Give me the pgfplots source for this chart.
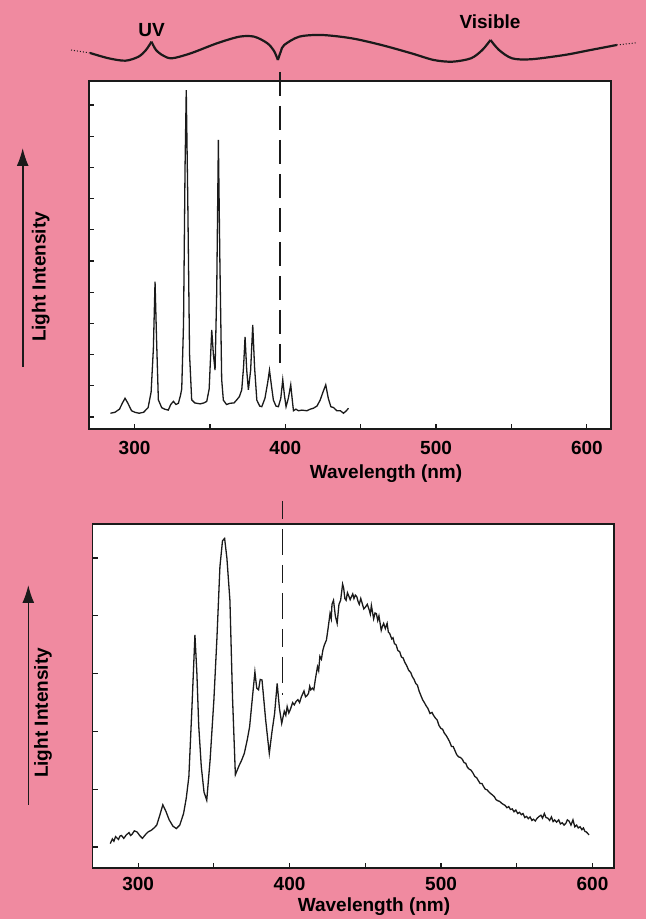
\documentclass[border=0pt]{standalone}
\usepackage{pgfplots}
\pgfplotsset{compat=1.18}
\usepackage{fontspec}
\setmainfont{Liberation Sans}
\usetikzlibrary{arrows.meta}
\definecolor{pinkbg}{HTML}{F08AA0}
\definecolor{ink}{HTML}{1A1A1A}
\newcommand\lbl{\fontsize{9.5}{11}\selectfont\bfseries}

\pgfplotsset{spec/.style={
  scale only axis,
  axis background/.style={fill=white},
  axis line style={ink, line width=0.7pt},
  tick align=inside, xtick pos=bottom, ytick pos=left,
  major tick length=2.5pt,
  tick style={ink, line width=0.6pt},
  xtick={300,350,...,600}, xticklabels={300,,400,,500,,600},
  yticklabels={},
  xticklabel style={font=\lbl, anchor=base},
  clip=false,
}}

\begin{document}
\begin{tikzpicture}[x=0.5pt,y=0.5pt]
\fill[pinkbg] (0,0) rectangle (646,919);
\clip (0,0) rectangle (646,919);

% top: line spectrum
\begin{axis}[spec, at={(44.5pt,245pt)}, anchor=south west,
  width=261pt, height=174pt,
  xmin=269.8, xmax=616, ymin=-0.385, ymax=10.77, ytick={0,...,10},
  xticklabel style={yshift=-13pt}]
\addplot[ink, line width=0.65pt] coordinates {
(284,0.12) (287,0.15) (290,0.25) (292,0.45) (293.7,0.6) (295.5,0.45) (298,0.2)
(300.3,0.15) (303,0.12) (306,0.15) (309,0.3) (311,0.8) (312.5,2.2) (313.6,4.34)
(314.6,2.5) (315.8,0.55) (318,0.3) (320,0.25) (322.4,0.22) (324,0.4) (325.8,0.5)
(327.5,0.4) (329.1,0.44) (330.5,0.7) (331.3,0.9) (332.5,3) (333.5,8) (334.3,10.48)
(335.3,7) (336.5,2) (337.9,0.55) (340,0.45) (343.5,0.42) (346,0.45) (347.9,0.5)
(349.5,0.9) (351.2,2.79) (352.3,2.0) (353.4,1.5) (354.5,4) (355.6,8.88) (356.6,5)
(357.8,1.2) (358.9,0.54) (361,0.4) (363.4,0.44) (366,0.45) (367.8,0.55) (369.5,0.65)
(371.1,0.87) (372.3,1.6) (373.3,2.57) (374.4,1.5) (375.5,0.87) (377,1.5) (378.4,2.95)
(379.6,1.6) (381.1,0.54) (383,0.35) (384.4,0.33) (386.5,0.6) (388.3,1.1) (389.5,1.5)
(390.8,1.0) (392.1,0.54) (393.8,0.35) (395.4,0.33) (397,0.6) (398.3,1.19) (399.4,0.7)
(400.5,0.33) (402,0.6) (403.6,1.03) (404.5,0.6) (405.4,0.2) (407,0.25) (408.7,0.2)
(411,0.22) (414.3,0.2) (416.5,0.25) (418.6,0.28) (421,0.35) (423.1,0.54) (425,0.8)
(426.8,1.03) (428.5,0.6) (430.2,0.33) (432,0.3) (434.2,0.2) (436.5,0.2) (438.6,0.12)
(440.5,0.2) (441.9,0.28)
};
\addplot[ink, line width=0.9pt, dash pattern=on 12pt off 5pt] coordinates {(396.5,11.06) (396.5,1.73)};
\end{axis}

% bottom: broad emission
\begin{axis}[spec, at={(46.35pt,25.5pt)}, anchor=south west,
  width=260.65pt, height=172pt,
  xmin=270, xmax=614.2, ymin=-0.363, ymax=5.59, ytick={0,...,5},
  xticklabel style={yshift=-11.5pt}]
\addplot[ink, line width=0.65pt] coordinates {
(281.6,0.06) (283,0.14) (284,0.1) (285.1,0.18) (287,0.13) (288,0.19) (289,0.2) (290.5,0.15)
(292.2,0.21) (294,0.25) (295,0.2) (296,0.22) (297.5,0.28) (299.3,0.26) (301,0.2) (302.8,0.15)
(305,0.22) (306.5,0.26) (308.7,0.29) (310.5,0.33) (312.3,0.38) (314.3,0.55) (316.3,0.73)
(318.3,0.62) (320.5,0.47) (323,0.36) (325.2,0.32) (327.5,0.38) (330,0.58) (331.8,0.85)
(333.5,1.22) (335.5,2.4) (337.5,3.67) (338.8,3.0) (340,2.1) (341.7,1.39) (343.5,0.95)
(345.3,0.81) (347.5,1.5) (350,2.54) (352,3.6) (354,4.85) (355.7,5.3) (357.1,5.34)
(358.6,5.0) (360.6,4.27) (362.3,2.6) (364.2,1.25) (366.5,1.4) (368.3,1.5) (370.1,1.62)
(372,1.85) (373.6,2.08) (375.5,2.6) (377.1,3.03) (378.3,2.75) (379.5,2.72) (380.6,2.9)
(381.8,2.89) (384.2,2.2) (386.6,1.62) (388.4,2.0) (390.1,2.31) (391.8,2.83) (393.3,2.4)
(394.8,2.14) (396.5,2.35) (397.5,2.28) (398.4,2.43) (399.5,2.32) (400.5,2.38) (402,2.5)
(403.1,2.46) (404.3,2.52) (405.5,2.55) (406.6,2.5) (407.8,2.6) (409.5,2.7) (410.5,2.6)
(411.5,2.62) (412.5,2.66) (413.3,2.78) (414,2.72) (415,2.75) (416,2.72) (417,2.9)
(418.4,3.12) (419.2,3.05) (420,3.3) (421,3.25) (422,3.41) (423,3.5) (424.3,3.58)
(425.5,3.8) (426.7,4.04) (427.5,3.95) (428,4.2) (429,4.27) (430.2,4.0) (431.4,3.87)
(432.6,4.2) (433.7,4.27) (435,4.55) (435.7,4.48) (436.5,4.3) (437.3,4.27) (438.2,4.4)
(439,4.35) (440,4.28) (440.8,4.33) (441.7,4.38) (442.5,4.3) (443.4,4.36) (444.4,4.33)
(445.2,4.25) (446,4.2) (447,4.3) (447.9,4.22) (449,4.12) (450,4.15) (451.3,4.2)
(452.6,4.1) (453.3,4.03) (454,4.18) (455.5,3.95) (456.4,4.05) (457.3,4.04) (458.2,3.92)
(459,4.0) (460.5,3.75) (461.3,3.82) (462.1,3.87) (463.2,3.78) (464.4,3.87) (465.2,3.72)
(466,3.7) (467.5,3.6) (468.3,3.62) (469.2,3.52) (470.3,3.5) (471.5,3.4) (472.7,3.38)
(473.8,3.29) (475,3.27) (476,3.2) (477.3,3.14) (478.6,3.06) (480,3.02) (481,2.95)
(482.2,2.9) (483.3,2.83) (484.4,2.8) (485.5,2.7) (486.7,2.62) (488,2.54) (489,2.5)
(490,2.45) (491.3,2.4) (492.7,2.31) (494,2.33) (495,2.28) (496.3,2.23) (497.4,2.2)
(498.7,2.1) (500,2.05) (501,2.04) (502.2,1.97) (503.4,1.93) (504.5,1.88) (505.7,1.82)
(506.9,1.74) (508,1.74) (509,1.68) (510.3,1.6) (511.6,1.56) (512.8,1.55) (514,1.52)
(515.2,1.46) (516.3,1.45) (517.4,1.38) (518.5,1.35) (519.8,1.33) (521.1,1.28) (522.3,1.22)
(523.5,1.2) (524.6,1.15) (525.8,1.1) (527,1.1) (528,1.05) (529.2,1.0) (530.4,0.99)
(531.7,0.95) (533,0.92) (534,0.9) (535.2,0.87) (536.3,0.82) (537.5,0.8) (538.7,0.79)
(539.9,0.76) (541,0.74) (542.3,0.72) (543.5,0.68) (544.7,0.7) (545.8,0.65) (547,0.66)
(548.2,0.61) (549.4,0.64) (550.6,0.58) (551.8,0.6) (553,0.56) (554.1,0.58) (555.3,0.51)
(556.5,0.53) (557.6,0.49) (558.8,0.52) (560,0.46) (561,0.48) (562.2,0.45) (563.5,0.5)
(564.8,0.53) (566,0.55) (567,0.5) (568.2,0.58) (569.3,0.51) (570.5,0.5) (571.7,0.46)
(572.9,0.52) (574,0.44) (575,0.47) (576.3,0.43) (577.7,0.47) (578.8,0.4) (580,0.42)
(581.2,0.38) (582.4,0.41) (583.4,0.47) (584.5,0.45) (585.8,0.38) (587.1,0.47) (588.3,0.35)
(589.5,0.38) (590.6,0.33) (591.8,0.35) (593,0.3) (594,0.33) (595,0.27) (596,0.26)
(597.7,0.21)
};
\addplot[ink, line width=0.9pt, dash pattern=on 9pt off 5pt on 13pt off 5pt] coordinates {(395.3,5.99) (395.3,2.63)};
\end{axis}

% UV / visible boundary curve, in picture pixels
\begin{axis}[at={(0pt,0pt)}, anchor=south west, scale only axis,
  width=323pt, height=459.5pt, xmin=0, xmax=646, ymin=0, ymax=919,
  y dir=reverse, hide axis, clip=false]
\addplot[ink, line width=0.5pt, densely dotted] coordinates {(71,50) (90,53)};
\addplot[ink, line width=1.1pt, smooth] coordinates {(90,53) (108.6,58.3) (125.4,60.7) (138.5,56.7) (146,50) (151.5,41.7)};
\addplot[ink, line width=1.1pt, smooth] coordinates {(151.5,41.7) (156,50) (163,55.5) (172,58.3) (190.8,53.3) (217,43.3) (239.4,36.7) (254.3,36.7) (267.4,43.3) (274,51) (277.9,60)};
\addplot[ink, line width=1.1pt, smooth] coordinates {(277.9,60) (281,51) (284.2,45) (299.2,36.7) (321.6,35) (351.5,38.3) (381.4,45) (411.3,53.3) (433.7,60) (452.4,61.7) (471,58.3) (482.3,50) (490.5,40)};
\addplot[ink, line width=1.1pt, smooth] coordinates {(490.5,40) (499,50) (512,58.3) (530.9,59.3) (564.5,55) (590.7,50) (616.8,45)};
\addplot[ink, line width=0.5pt, densely dotted] coordinates {(616.8,45) (637.4,42.7)};
\end{axis}

\node[font=\lbl] at (151.5,889) {UV};
\node[font=\lbl] at (490,897) {Visible};
\node[font=\lbl, rotate=90] at (40.7,642) {Light Intensity};
\node[font=\lbl, rotate=90] at (43,206) {Light Intensity};
\draw[ink, line width=0.8pt, -{Latex[length=9pt,width=6pt]}] (22.7,552) -- (22.7,771);
\draw[ink, line width=0.8pt, -{Latex[length=9pt,width=6pt]}] (28.3,114) -- (28.3,334);
\node[font=\lbl, anchor=base] at (386,440) {Wavelength (nm)};
\node[font=\lbl, anchor=base] at (374,7) {Wavelength (nm)};
\end{tikzpicture}
\end{document}
